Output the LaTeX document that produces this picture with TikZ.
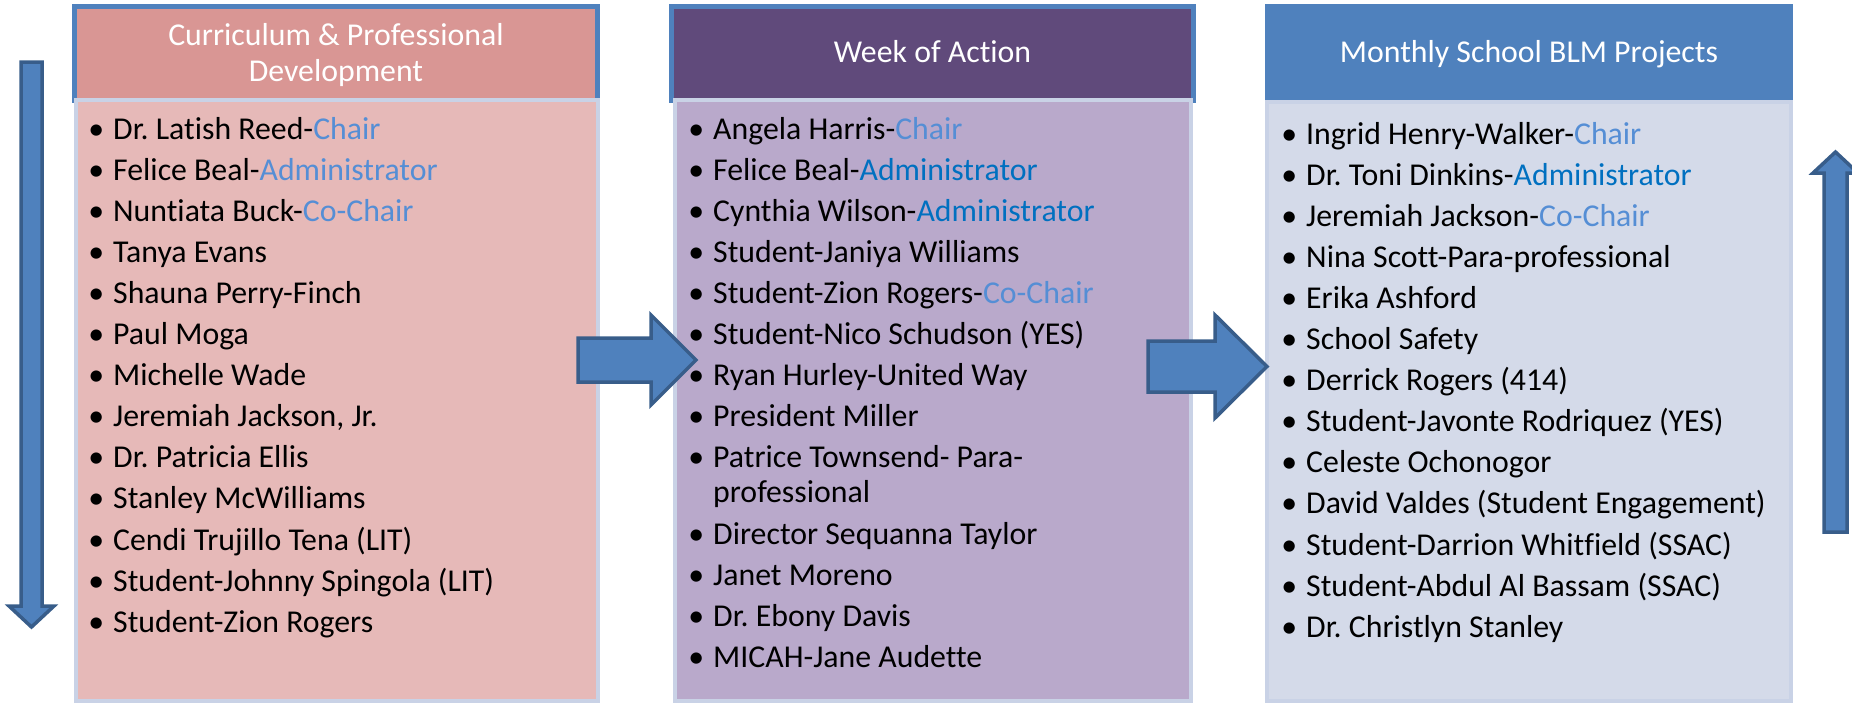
\documentclass[tikz,border=0pt]{standalone}
\usepackage{fontspec}
\setmainfont{Carlito}[Ligatures=NoCommon]
\frenchspacing
\definecolor{hdrA}{HTML}{D99694}
\definecolor{bodyA}{HTML}{E6B9B8}
\definecolor{hdrB}{HTML}{604A7B}
\definecolor{bodyB}{HTML}{B9A9CB}
\definecolor{hdrC}{HTML}{4F81BD}
\definecolor{bodyC}{HTML}{D4DAE9}
\definecolor{edgeblue}{HTML}{4F81BD}
\definecolor{bodyedge}{HTML}{C9D2E6}
\definecolor{arrowfill}{HTML}{4F81BD}
\definecolor{arrowline}{HTML}{385D8A}
\definecolor{chair}{HTML}{558ED5}
\definecolor{admin}{HTML}{0070C0}
\tikzset{
  hdrbox/.style={line width=5pt},
  bodybox/.style={draw=bodyedge,line width=4pt},
  hdrtext/.style={text=white,font=\fontsize{31.8}{37}\selectfont,align=center,inner sep=0pt},
  item/.style={anchor=base west,inner sep=0pt,font=\fontsize{31.8}{36}\selectfont\frenchspacing,text=black},
  blockarrow/.style={fill=arrowfill,draw=arrowline,line width=3.5pt,line join=miter}
}
\newcommand{\bul}{\llap{•\hspace{9pt}}}
\begin{document}
\begin{tikzpicture}[x=1pt,y=-1pt]
\useasboundingbox (0,0) rectangle (1852,707);
% ---------- column A ----------
\filldraw[hdrbox,fill=hdrA,draw=edgeblue] (74.5,6.5) rectangle (597.5,100);
\filldraw[bodybox,fill=bodyA] (76,100) rectangle (598,701);
\node[hdrtext,anchor=base] (hA1) at (336,45) {Curriculum \& Professional};
\node[hdrtext,anchor=base] (hA2) at (336,81) {Development};
\node[item] (a1) at (113,139.0) {\bul Dr. Latish Reed-\textcolor{chair}{Chair}};
\node[item] (a2) at (113,180.1) {\bul Felice Beal-\textcolor{chair}{Administrator}};
\node[item] (a3) at (113,221.2) {\bul Nuntiata Buck-\textcolor{chair}{Co-Chair}};
\node[item] (a4) at (113,262.3) {\bul Tanya Evans};
\node[item] (a5) at (113,303.4) {\bul Shauna Perry-Finch};
\node[item] (a6) at (113,344.5) {\bul Paul Moga};
\node[item] (a7) at (113,385.6) {\bul Michelle Wade};
\node[item] (a8) at (113,426.7) {\bul Jeremiah Jackson, Jr.};
\node[item] (a9) at (113,467.8) {\bul Dr. Patricia Ellis};
\node[item] (a10) at (113,508.9) {\bul Stanley McWilliams};
\node[item] (a11) at (113,550.0) {\bul Cendi Trujillo Tena (LIT)};
\node[item] (a12) at (113,591.1) {\bul Student-Johnny Spingola (LIT)};
\node[item] (a13) at (113,632.2) {\bul Student-Zion Rogers};
% ---------- column B ----------
\filldraw[hdrbox,fill=hdrB,draw=edgeblue] (671.5,6.5) rectangle (1193.5,100);
\filldraw[bodybox,fill=bodyB] (675,100) rectangle (1191,701);
\node[hdrtext,anchor=base] (hB) at (932.5,62) {Week of Action};
\node[item] (b1) at (713,139) {\bul Angela Harris-\textcolor{chair}{Chair}};
\node[item] (b2) at (713,180) {\bul Felice Beal-\textcolor{admin}{Administrator}};
\node[item] (b3) at (713,221) {\bul Cynthia Wilson-\textcolor{admin}{Administrator}};
\node[item] (b4) at (713,262) {\bul Student-Janiya Williams};
\node[item] (b5) at (713,303) {\bul Student-Zion Rogers-\textcolor{chair}{Co-Chair}};
\node[item] (b6) at (713,344) {\bul Student-Nico Schudson (YES)};
\node[item] (b7) at (713,385) {\bul Ryan Hurley-United Way};
\node[item] (b8) at (713,426) {\bul President Miller};
\node[item] (b9) at (713,467) {\bul Patrice Townsend- Para-};
\node[item] (b9b) at (713,502) {professional};
\node[item] (b10) at (713,544) {\bul Director Sequanna Taylor};
\node[item] (b11) at (713,585) {\bul Janet Moreno};
\node[item] (b12) at (713,626) {\bul Dr. Ebony Davis};
\node[item] (b13) at (713,667) {\bul MICAH-Jane Audette};
% ---------- column C ----------
\filldraw[fill=hdrC,draw=hdrC,line width=1pt] (1265.5,4.5) rectangle (1792.5,102);
\filldraw[bodybox,fill=bodyC] (1267,102) rectangle (1791,701);
\node[hdrtext,anchor=base] (hC) at (1529,62) {Monthly School BLM Projects};
\node[item] (c1) at (1306,144.0) {\bul Ingrid Henry-Walker-\textcolor{chair}{Chair}};
\node[item] (c2) at (1306,185.1) {\bul Dr. Toni Dinkins-\textcolor{admin}{Administrator}};
\node[item] (c3) at (1306,226.2) {\bul Jeremiah Jackson-\textcolor{chair}{Co-Chair}};
\node[item] (c4) at (1306,267.3) {\bul Nina Scott-Para-professional};
\node[item] (c5) at (1306,308.4) {\bul Erika Ashford};
\node[item] (c6) at (1306,349.5) {\bul School Safety};
\node[item] (c7) at (1306,390.6) {\bul Derrick Rogers (414)};
\node[item] (c8) at (1306,431.7) {\bul Student-Javonte Rodriquez (YES)};
\node[item] (c9) at (1306,472.8) {\bul Celeste Ochonogor};
\node[item] (c10) at (1306,513.9) {\bul David Valdes (Student Engagement)};
\node[item] (c11) at (1306,555.0) {\bul Student-Darrion Whitfield (SSAC)};
\node[item] (c12) at (1306,596.1) {\bul Student-Abdul Al Bassam (SSAC)};
\node[item] (c13) at (1306,637.2) {\bul Dr. Christlyn Stanley};
% ---------- arrows ----------
\filldraw[blockarrow] (21,62) -- (42,62) -- (42,606) -- (54,606) -- (31.5,627) -- (9,606) -- (21,606) -- cycle;
\filldraw[blockarrow] (1824,532) -- (1847,532) -- (1847,173) -- (1858,173) -- (1835.5,152) -- (1813,173) -- (1824,173) -- cycle;
\filldraw[blockarrow] (578,338) -- (651,338) -- (651,315) -- (696,360) -- (651,405) -- (651,382) -- (578,382) -- cycle;
\filldraw[blockarrow] (1148,341) -- (1215,341) -- (1215,315) -- (1267,366.5) -- (1215,418) -- (1215,392) -- (1148,392) -- cycle;
\end{tikzpicture}
\end{document}
